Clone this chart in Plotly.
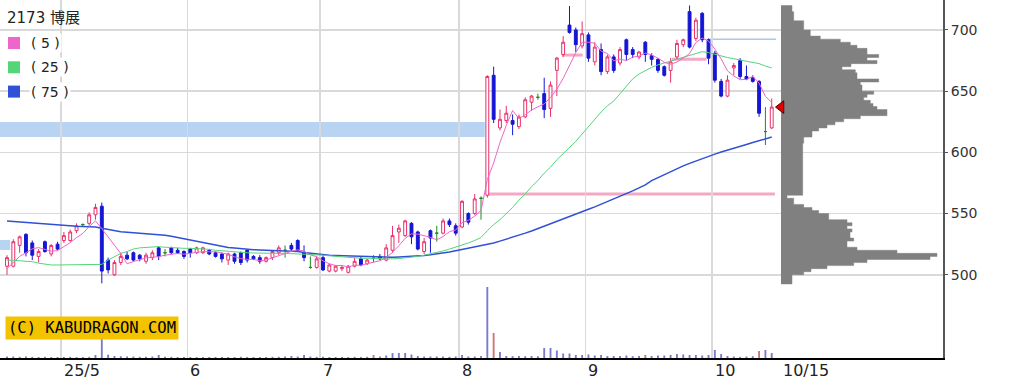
import numpy as np
import plotly.graph_objects as go

# ---------------- data ----------------
stock_title = "2173 博展"

opens = [507, 507, 524, 533, 526, 515, 527, 517, 525, 528,
         528, 536, 541, 542, 549, 556, 512, 500, 510, 516,
         518, 516, 511, 514, 522, 518, 522, 520, 519, 521,
         518, 518, 520, 518, 517, 512, 517, 518, 520, 515,
         514, 511, 514, 518, 520, 524, 528, 518, 506, 506,
         514, 503, 503, 505, 502, 507, 513, 509, 513.5, 515,
         512, 520, 535, 532, 542, 535, 519, 536, 534, 534,
         544, 540, 539, 550, 550, 562.5, 565, 663, 620, 626,
         626, 621, 629, 641, 645, 648, 636, 667, 680, 704,
         700, 687, 696, 674, 684, 666, 678, 673, 692, 684,
         678, 690, 679, 676, 670, 667, 678, 688, 715, 693,
         713.6, 692, 681, 658, 646, 669, 675, 662, 661, 658,
         617, 620]
highs = [516, 529, 532, 534, 528, 521, 528, 525, 527, 535,
         537, 542, 542, 551, 558, 559, 514, 512, 518, 519,
         519, 517, 518, 520, 523, 521, 523, 522, 520, 522,
         523, 523, 521, 519, 518, 518, 518, 519, 521, 516,
         516, 515, 520, 524, 524, 526, 529, 524, 515, 515,
         516, 509, 508, 508, 508, 514, 515, 513, 516, 517,
         525, 540, 541, 545, 543, 536, 530, 537, 540, 546,
         546, 542, 561, 551, 566, 564, 663, 670, 635, 638,
         631, 631, 645, 647, 648, 661, 658, 678, 695, 719.6,
         702, 707, 698, 690, 689, 680, 680, 686, 693, 686,
         683, 691, 681, 677, 671, 677, 692, 693, 720, 710,
         714.6, 693, 683, 660, 663, 673, 677, 671, 663, 659,
         637, 644]
lows = [500, 506, 518, 515, 512, 510, 518, 515, 520, 526,
        527, 534, 539, 540, 545, 493, 501, 499, 508, 512,
        511, 511, 509, 512, 512, 515, 517, 517, 513, 514,
        517, 517, 516, 514, 510, 508, 509, 508, 510, 512,
        509, 510, 512, 516, 514, 519, 519, 511, 505, 505,
        503, 502, 502, 503, 501, 506, 507, 508, 510, 512,
        511, 518, 526, 531, 525, 520, 517, 518, 527, 533,
        539, 532, 538, 541, 549, 545, 563, 624, 618, 624,
        614, 619, 628, 634, 643, 628, 629, 646, 678, 697,
        682, 685, 674, 671, 663, 664, 665, 671, 675, 677,
        676, 674, 671, 665, 662, 657, 676, 686, 685, 691,
        690, 672, 657, 645, 645, 663, 660, 659, 657, 629,
        606, 619]
closes = [514, 527, 531, 518, 516, 519, 519, 524, 521, 532,
          535, 540, 541, 549, 555, 503, 504, 510, 515, 513,
          512, 513, 516, 518, 515, 518, 518, 518, 515, 518,
          522, 522, 517, 515, 513, 517, 511, 510, 512, 513,
          511, 514, 519, 522, 520, 521, 520, 514, 506, 513,
          504, 508, 507, 506, 507, 511, 508, 512, 513.5, 513,
          522, 532, 538, 544, 531, 521, 527, 530, 534, 544,
          541, 534, 560, 543, 562, 562.5, 662, 627, 627, 632,
          623, 629, 643, 646, 645, 635, 655, 677, 690, 698,
          688, 697, 677, 686, 666, 678, 667, 684, 680, 680,
          682, 680, 676, 667, 663, 674, 689, 692, 686, 708,
          692, 677, 659, 646, 659, 671, 662, 660, 658, 632,
          617, 637]
volumes = [15, 15, 12, 15, 12, 10, 12, 10, 10, 10,
           12, 10, 10, 12, 30, 220, 33, 20, 18, 15,
           15, 12, 12, 15, 30, 12, 12, 10, 10, 10,
           10, 10, 10, 10, 10, 10, 10, 12, 10, 10,
           10, 10, 12, 12, 15, 20, 15, 30, 15, 12,
           12, 10, 10, 10, 10, 12, 10, 12, 30, 15,
           25, 50, 50, 50, 35, 20, 15, 15, 15, 15,
           12, 15, 30, 15, 15, 20, 710, 250, 60, 20,
           18, 20, 18, 20, 18, 100, 100, 75, 45, 45,
           30, 30, 35, 25, 30, 20, 20, 20, 25, 18,
           20, 30, 20, 25, 25, 30, 40, 35, 30, 30,
           25, 30, 80, 40, 20, 15, 12, 15, 18, 70,
           80, 50]
volume_red_days = [13, 58, 77, 101, 119]

ma5 = [505, 510, 515, 518, 521.2, 522.2, 520.6, 519.2, 519.8, 523,
       526.2, 530.4, 533.8, 539.4, 544, 537.6, 530.4, 524.2, 517.4, 509,
       510.8, 512.6, 513.8, 514.4, 514.8, 516, 517, 517.4, 516.8, 517.4,
       518.2, 519, 518.8, 518.8, 517.8, 516.8, 514.6, 513.2, 512.6, 512.6,
       511.4, 512, 513.8, 515.8, 517.2, 519.2, 520.4, 519.4, 516.2, 514.8,
       511.4, 509, 507.6, 507.6, 506.4, 507.8, 507.8, 508.8, 510.3, 511.5,
       513.7, 518.5, 523.7, 529.8, 533.4, 533.2, 532.2, 530.6, 528.6, 531.2,
       535.2, 536.6, 542.6, 544.4, 548, 552.3, 577.9, 591.3, 608.1, 622.1,
       634.2, 627.6, 630.8, 634.6, 637.2, 639.6, 644.8, 651.6, 660.4, 671,
       681.6, 690, 690, 689.2, 682.8, 680.8, 674.8, 676.2, 675, 677.8,
       678.6, 681.2, 679.6, 677, 673.6, 672, 673.8, 677, 680.8, 689.8,
       693.4, 691, 684.4, 676.4, 666.6, 662.4, 659.4, 659.6, 662, 656.6,
       645.8, 640.8]
ma25 = [512, 512, 511.5, 511, 510.7, 509.5, 508.5, 508, 508, 508,
        508, 508, 508, 508, 508, 508.5, 512, 515, 517.5, 519,
        521, 522, 522.5, 523, 523, 522.5, 522, 522, 521.6, 521.6,
        521.5, 521, 520.8, 520, 519.5, 519, 518.5, 518.3, 518, 517.8,
        517.6, 517.5, 517.5, 517.5, 517.5, 517.3, 517.2, 517, 516.5, 516,
        516, 515.5, 515, 514.5, 514, 513.5, 513.5, 513.5, 513.3, 513,
        512.7, 513, 513.3, 513.8, 514.3, 515, 516, 517, 518, 519.5,
        521, 522.5, 524.5, 526, 528, 530.5, 536, 541, 545, 550,
        555, 561, 566, 572, 577, 583, 588, 594, 599, 604,
        609, 615, 621, 627, 633, 638, 642, 648, 654, 660,
        664, 667, 669.5, 671.5, 673, 674.5, 676.5, 678, 679.6, 681,
        682.3, 681.5, 680, 678.5, 677.5, 676.5, 675.5, 674.5, 673.5, 672.5,
        670.5, 669]
ma75 = [544, 543.6, 543.2, 542.6, 542, 541.5, 541, 540.6, 540.2, 540,
        539.8, 539.6, 539.4, 539.2, 539, 538, 537, 536, 535.2, 534.7,
        534.4, 534, 533.4, 533, 532.6, 532.3, 531.5, 530.5, 529.5, 528.5,
        527, 526, 525, 524, 523, 522.3, 521.8, 521.2, 520.8, 520.5,
        520.3, 520.1, 519.9, 519.7, 519.5, 519.4, 519, 518.2, 517.5, 516.8,
        516.3, 516, 515.8, 515.6, 515.5, 515.4, 515.2, 515, 514.8, 514.5,
        514.3, 514.4, 514.6, 514.8, 515, 515.3, 515.7, 516.3, 517, 517.8,
        518.7, 519.7, 520.7, 521.7, 522.6, 523.5, 524.5, 526, 527.5, 529,
        530.7, 532.3, 534, 535.8, 537.7, 539.6, 541.5, 543.5, 545.5, 547.5,
        549.5, 551.5, 553.5, 555.5, 557.6, 559.6, 561.8, 564, 566.3, 568.5,
        571, 573.5, 577, 579.5, 582, 584.5, 587, 589, 591, 593,
        595, 596.8, 598.6, 600.3, 602, 603.6, 605, 606.5, 608, 609.6,
        611, 612.5]

# price-by-volume profile: 2.5-yen bins from 492.5 upward (bottom to top)
profile_low = 492.5
profile_step = 2.5
profile_volume = [11, 11, 11, 22.7, 30, 46, 72.7, 86, 149, 156,
                  116, 76, 66, 66, 72.7, 69, 69, 71, 66, 71,
                  66, 47.7, 47.7, 37.7, 31, 22.7, 12.7, 12.7, 6,
                  21.7, 21.7, 21.7, 21.7, 21.7, 21.7, 21.7, 21.7, 21.7, 21.7,
                  21.7, 21.7, 21.7, 21.7, 21.7, 21.7, 21.7,
                  22.7, 22.7, 31, 31, 37.7, 46, 54, 62.7, 79.3, 106,
                  106, 96, 92, 89.3, 82.7, 86, 92.7, 81, 81, 79.3,
                  97.7, 76, 76, 74.3, 61, 70, 96, 86, 97.7, 86,
                  86, 76, 69.3, 59.3, 39.3, 29.3, 29.3, 22.7, 22.7, 22.7,
                  12.7, 12.7, 12.7, 11, 11]

month_start_idx = [9, 29, 50, 72, 92, 112]
month_labels = ["25/5", "6", "7", "8", "9", "10"]
last_label = "10/15"

ma_names = ["( 5 )", "( 25 )", "( 75 )"]

# price zones / markers
blue_zones = [(612.6, 624.8, 75.6), (520.3, 528.4, 0.5)]   # (low, high, end day)
pink_levels = [(566, 75.8, 121.5), (679.5, 87.8, 91.1), (676, 105.2, 110.7)]
blue_levels = [(692.5, 110.9, 121.7)]

# ---------------- figure ----------------
n = len(closes)
days = np.arange(n)
o = np.array(opens); h = np.array(highs); l = np.array(lows); c = np.array(closes)
doji = o == c
norm = ~doji

RED = "#E8306A"
BLUE = "#1515D5"
GREEN = "#1E8C1E"
C5, C25, C75 = "#EE66CC", "#55D57A", "#3050D8"

fig = go.Figure()

# volume profile drawn as a filled staircase on its own x axis at the right
edges = profile_low + profile_step * np.arange(len(profile_volume) + 1)
prof_y, prof_x = [edges[0]], [0]
for k, v in enumerate(profile_volume):
    prof_y += [edges[k], edges[k + 1]]
    prof_x += [v, v]
prof_y.append(edges[-1]); prof_x.append(0)
fig.add_trace(go.Scatter(x=prof_x, y=prof_y, xaxis="x3", yaxis="y", mode="lines",
                         line=dict(color="#808080", width=0.5), fill="toself",
                         fillcolor="#808080", hoverinfo="skip"))

# volume bars
vcolors = ["#CC7777" if i in volume_red_days else "#7A7ACF" for i in range(n)]
fig.add_trace(go.Bar(x=days, y=volumes, yaxis="y2", width=0.3,
                     marker=dict(color=vcolors, line=dict(width=0)), hoverinfo="skip"))

fig.add_trace(go.Candlestick(
    x=days[norm], open=o[norm], high=h[norm], low=l[norm], close=c[norm],
    increasing=dict(line=dict(color=RED, width=1), fillcolor="white"),
    decreasing=dict(line=dict(color=BLUE, width=1), fillcolor=BLUE),
    whiskerwidth=0, hoverinfo="skip"))
fig.add_trace(go.Candlestick(
    x=days[doji], open=o[doji], high=h[doji], low=l[doji], close=c[doji],
    increasing=dict(line=dict(color=GREEN, width=1), fillcolor=GREEN),
    decreasing=dict(line=dict(color=GREEN, width=1), fillcolor=GREEN),
    whiskerwidth=0, hoverinfo="skip"))

fig.add_trace(go.Scatter(x=days, y=ma75, mode="lines", line=dict(color=C75, width=1.5), hoverinfo="skip"))
fig.add_trace(go.Scatter(x=days, y=ma25, mode="lines", line=dict(color=C25, width=1), hoverinfo="skip"))
fig.add_trace(go.Scatter(x=days, y=ma5, mode="lines", line=dict(color=C5, width=1), hoverinfo="skip"))

# current price marker at the profile's edge
fig.add_trace(go.Scatter(x=[0], y=[closes[-1]], xaxis="x3", yaxis="y", mode="markers",
                         marker=dict(symbol="triangle-left", size=11, color="#E00000",
                                     line=dict(color="#5A0000", width=1)),
                         cliponaxis=False, hoverinfo="skip"))

shapes = []
for lo, hi, end in blue_zones:
    shapes.append(dict(type="rect", xref="x", yref="y", x0=-5, x1=end, y0=lo, y1=hi,
                       fillcolor="#B9D3F3", line=dict(width=0), layer="below"))
for lvl, x0, x1 in pink_levels:
    shapes.append(dict(type="line", xref="x", yref="y", x0=x0, x1=x1, y0=lvl, y1=lvl,
                       line=dict(color="#F4A8C4", width=3), layer="below"))
for lvl, x0, x1 in blue_levels:
    shapes.append(dict(type="line", xref="x", yref="y", x0=x0, x1=x1, y0=lvl, y1=lvl,
                       line=dict(color="#A8C8EE", width=1.5), layer="below"))

# legend squares
PH = 358.0; PW = 943.0
for k, col in enumerate([C5, C25, C75]):
    top = 37 + 24.3 * k
    shapes.append(dict(type="rect", xref="paper", yref="paper", x0=8 / PW, x1=20 / PW,
                       y0=1 - (top + 12) / PH, y1=1 - top / PH,
                       fillcolor=col, line=dict(width=0)))

annotations = []
annotations.append(dict(x=5 / PW, y=1 - 18 / PH, xref="paper", yref="paper", text=stock_title,
                        showarrow=False, xanchor="left", yanchor="middle",
                        font=dict(family="DejaVu Sans, Noto Sans CJK JP", size=15, color="#222")))
for k, name in enumerate(ma_names):
    annotations.append(dict(x=29 / PW, y=1 - (43 + 24.3 * k) / PH, xref="paper", yref="paper",
                            text=name, showarrow=False, xanchor="left", yanchor="middle",
                            bgcolor="white",
                            font=dict(family="DejaVu Sans", size=14, color="#222")))
for idx, lab in zip(month_start_idx, month_labels):
    annotations.append(dict(x=idx, y=0, xref="x", yref="paper", text=lab, showarrow=False,
                            xanchor="left", yanchor="top", xshift=-2, yshift=-1,
                            font=dict(family="DejaVu Sans", size=16, color="#222")))
annotations.append(dict(x=n - 1 + 1.5, y=0, xref="x", yref="paper", text=last_label,
                        showarrow=False, xanchor="left", yanchor="top", xshift=0, yshift=-1,
                        font=dict(family="DejaVu Sans", size=16, color="#222")))
annotations.append(dict(x=5 / PW, y=1 - 327.5 / PH, xref="paper", yref="paper",
                        text="(C) KABUDRAGON.COM", showarrow=False, xanchor="left",
                        yanchor="middle", bgcolor="#F3C300", borderpad=2,
                        font=dict(family="DejaVu Sans Mono", size=15.5, color="black")))

fig.update_layout(
    width=1009, height=388,
    margin=dict(l=0, r=66, t=0, b=30),
    paper_bgcolor="white", plot_bgcolor="white",
    showlegend=False, boxgap=0.35,
    shapes=shapes, annotations=annotations,
    xaxis=dict(range=[-1.108, 148.1], tickvals=[m - 0.45 for m in month_start_idx],
               showticklabels=False, ticks="", showgrid=True, gridcolor="#D9D9D9", gridwidth=1.5,
               showline=True, linecolor="black", linewidth=1.5, zeroline=False,
               rangeslider=dict(visible=False), fixedrange=True),
    yaxis=dict(range=[432, 724.5], side="right", tickvals=[500, 550, 600, 650, 700],
               showgrid=True, gridcolor="#D9D9D9", gridwidth=1.5, ticks="outside", ticklen=3,
               tickcolor="#555", showline=True, linecolor="#555", linewidth=2, zeroline=False,
               tickfont=dict(family="DejaVu Sans", size=14, color="#333")),
    yaxis2=dict(overlaying="y", range=[0, 3580], visible=False),
    xaxis3=dict(domain=[781 / 943, 1], range=[0, 162], anchor="y", visible=False),
)

fig.write_html("out.html", config={"displayModeBar": False, "staticPlot": True})

# remove the browser's default page margin so the chart sits at the window's corner
with open("out.html", encoding="utf-8") as f:
    page = f.read()
page = page.replace("<head>", "<head><style>html,body{margin:0;padding:0;overflow:hidden;}</style>", 1)
with open("out.html", "w", encoding="utf-8") as f:
    f.write(page)
